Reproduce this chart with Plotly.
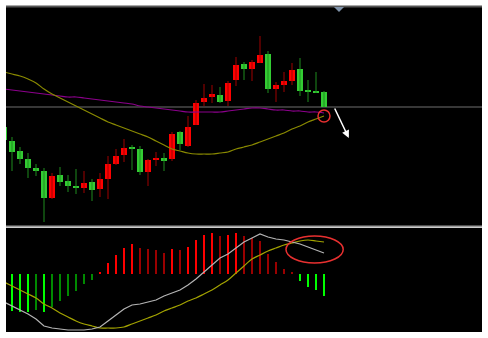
import plotly.graph_objects as go

# ---- candle data (index, open, high, low, close) ----
opens  = [13.3, 11.9, 10.9, 10.1, 9.2, 8.9, 6.2, 8.5, 7.9, 7.4, 7.2, 7.8, 7.1, 8.1, 9.6, 10.5, 11.2, 11.1, 8.8, 10.0,
          10.2, 10.1, 12.8, 11.4, 13.5, 15.8, 16.3, 16.5, 15.9, 18.0, 19.6, 19.1, 19.7, 20.6, 17.1, 17.5, 17.9, 19.1, 16.9, 16.9, 16.8]
highs  = [13.6, 12.3, 11.3, 10.7, 9.6, 9.2, 8.7, 9.3, 8.5, 9.1, 8.9, 8.1, 8.7, 10.4, 11.1, 12.1, 11.5, 11.4, 10.1, 10.8,
          10.7, 12.8, 12.9, 14.4, 16.0, 17.6, 17.5, 17.3, 17.9, 20.3, 19.8, 20.0, 22.4, 20.9, 17.8, 18.8, 19.7, 20.2, 18.0, 18.8, 16.9]
lows   = [11.5, 8.9, 9.6, 8.2, 8.4, 3.8, 6.1, 7.4, 6.8, 6.6, 6.7, 5.9, 6.3, 6.1, 9.5, 9.8, 9.0, 8.5, 7.4, 9.4,
          8.9, 9.9, 11.0, 11.3, 13.5, 15.4, 15.7, 15.7, 15.4, 17.4, 18.0, 17.9, 19.7, 16.7, 15.8, 16.8, 17.5, 16.4, 15.8, 16.7, 15.3]
closes = [12.0, 10.8, 10.1, 9.2, 8.9, 6.2, 8.4, 7.8, 7.4, 7.2, 7.7, 7.0, 8.1, 9.6, 10.4, 11.2, 11.1, 8.8, 10.0, 10.1,
          9.9, 12.6, 11.6, 13.3, 15.7, 16.2, 16.6, 15.8, 17.7, 19.5, 19.1, 19.8, 20.5, 17.1, 17.5, 17.9, 19.0, 16.9, 16.8, 16.7, 15.3]

# moving averages (price units)
ma_short = [18.8, 18.6, 18.4, 18.1, 17.7, 17.1, 16.6, 16.2, 15.8, 15.4, 15.0, 14.6, 14.2, 13.8, 13.5, 13.2, 12.9, 12.6, 12.3, 11.9,
            11.5, 11.1, 10.9, 10.7, 10.6, 10.6, 10.6, 10.7, 10.8, 11.1, 11.3, 11.5, 11.8, 12.1, 12.4, 12.7, 13.1, 13.4, 13.8, 14.1, 14.4]
ma_long  = [17.1, 17.0, 16.9, 16.8, 16.7, 16.6, 16.5, 16.4, 16.3, 16.3, 16.2, 16.1, 16.0, 15.9, 15.8, 15.7, 15.6, 15.4, 15.3, 15.2,
            15.1, 15.0, 14.9, 14.8, 14.8, 14.8, 14.8, 14.8, 14.9, 15.0, 15.1, 15.2, 15.2, 15.1, 15.0, 15.0, 14.9, 14.9, 14.8, 14.8, 14.7]

# MACD panel
macd_hist = [-0.36, -0.37, -0.375, -0.38, -0.36, -0.38, -0.33, -0.27, -0.22, -0.17, -0.10, -0.06, 0.02, 0.11, 0.19, 0.26, 0.30,
             0.26, 0.25, 0.245, 0.21, 0.25, 0.24, 0.27, 0.34, 0.39, 0.41, 0.38, 0.39, 0.41, 0.38, 0.36, 0.33, 0.20, 0.12, 0.05,
             0.02, -0.07, -0.13, -0.16, -0.22]
dif = [-0.28, -0.32, -0.36, -0.40, -0.45, -0.52, -0.54, -0.55, -0.56, -0.56, -0.56, -0.55, -0.53, -0.47, -0.41, -0.35, -0.31,
       -0.30, -0.28, -0.26, -0.22, -0.19, -0.16, -0.11, -0.05, 0.02, 0.09, 0.16, 0.20, 0.26, 0.32, 0.36, 0.40, 0.37, 0.35,
       0.34, 0.32, 0.30, 0.27, 0.24, 0.21]
dea = [-0.08, -0.12, -0.16, -0.20, -0.24, -0.30, -0.34, -0.39, -0.43, -0.47, -0.50, -0.52, -0.54, -0.54, -0.54, -0.53, -0.50,
       -0.47, -0.44, -0.41, -0.37, -0.34, -0.31, -0.27, -0.24, -0.20, -0.16, -0.11, -0.06, 0.01, 0.08, 0.15, 0.19, 0.23, 0.26,
       0.29, 0.31, 0.33, 0.34, 0.33, 0.32]

idx = list(range(len(opens)))

fig = go.Figure()

# wicks
for up, col in [(True, "#a00000"), (False, "#1e8c1e")]:
    xs, ys = [], []
    for i in idx:
        if (closes[i] >= opens[i]) == up:
            xs += [i, i, None]
            ys += [lows[i], highs[i], None]
    fig.add_trace(go.Scatter(x=xs, y=ys, mode="lines", line=dict(color=col, width=1),
                             hoverinfo="skip", showlegend=False, xaxis="x", yaxis="y"))

# MA lines
fig.add_trace(go.Scatter(x=idx, y=ma_long, mode="lines", line=dict(color="#8c008c", width=1.2, shape="spline", smoothing=0.8),
                         showlegend=False, xaxis="x", yaxis="y"))
fig.add_trace(go.Scatter(x=idx, y=ma_short, mode="lines", line=dict(color="#8a8a00", width=1.2, shape="spline", smoothing=0.8),
                         showlegend=False, xaxis="x", yaxis="y"))

# bodies
for up, col in [(True, "#ff0000"), (False, "#33cc33")]:
    bx, bb, bh = [], [], []
    for i in idx:
        if (closes[i] >= opens[i]) == up:
            lo = min(opens[i], closes[i]); hi = max(opens[i], closes[i])
            bx.append(i); bb.append(lo); bh.append(max(hi - lo, 0.12))
    fig.add_trace(go.Bar(x=bx, y=bh, base=bb, width=0.7, marker=dict(color=col, line=dict(width=0)),
                         showlegend=False, xaxis="x", yaxis="y"))

# MACD histogram colours
hist_cols = []
for i, v in enumerate(macd_hist):
    prev = macd_hist[i - 1] if i > 0 else 0
    if v >= 0:
        hist_cols.append("#ff0000" if v >= prev else "#9a0000")
    else:
        hist_cols.append("#00ff00" if v <= prev else "#008a00")
fig.add_trace(go.Bar(x=idx, y=macd_hist, width=0.26, marker=dict(color=hist_cols, line=dict(width=0)),
                     showlegend=False, xaxis="x2", yaxis="y2"))
fig.add_trace(go.Scatter(x=idx, y=dea, mode="lines", line=dict(color="#a3a300", width=1.2, shape="spline", smoothing=0.8),
                         showlegend=False, xaxis="x2", yaxis="y2"))
fig.add_trace(go.Scatter(x=idx, y=dif, mode="lines", line=dict(color="#b4b4b4", width=1.2),
                         showlegend=False, xaxis="x2", yaxis="y2"))

H = 326.0
def py(px):  # pixel row -> paper fraction
    return (332 - px) / H

shapes = [
    dict(type="line", xref="paper", yref="paper", x0=0, x1=1, y0=py(6.5), y1=py(6.5),
         line=dict(color="#555555", width=2)),
    dict(type="line", xref="paper", yref="paper", x0=0, x1=1, y0=py(226.5), y1=py(226.5),
         line=dict(color="#9c9c9c", width=2)),
    dict(type="line", xref="paper", yref="y", x0=0, x1=1, y0=closes[-1], y1=closes[-1],
         line=dict(color="#4a4a4a", width=1.5), layer="below"),
    dict(type="path", xref="x", yref="paper",
         path=f"M 41.25 {py(7)} L 42.5 {py(7)} L 41.875 {py(12)} Z",
         fillcolor="#8093aa", line=dict(width=0)),
    dict(type="circle", xref="x", yref="y", x0=39.25, x1=40.75, y0=13.8, y1=15.0,
         line=dict(color="#e83030", width=1.5)),
    dict(type="circle", xref="x2", yref="y2", x0=35.25, x1=42.4, y0=0.11, y1=0.38,
         line=dict(color="#e83030", width=1.5)),
]

fig.update_layout(
    width=488, height=338,
    margin=dict(l=6, r=6, t=6, b=6, pad=0),
    paper_bgcolor="white", plot_bgcolor="black",
    barmode="overlay", bargap=0,
    showlegend=False,
    xaxis=dict(domain=[0, 1], range=[0.25, 59.75], visible=False, anchor="y"),
    xaxis2=dict(domain=[0, 1], range=[0.25, 59.75], visible=False, anchor="y2", matches="x"),
    yaxis=dict(domain=[py(226), 1], range=[3.4, 25.4], visible=False),
    yaxis2=dict(domain=[0, py(228)], range=[-0.58, 0.46], visible=False),
    shapes=shapes,
    annotations=[dict(x=43.1, y=12.2, ax=41.25, ay=15.3, xref="x", yref="y", axref="x", ayref="y",
                      showarrow=True, arrowhead=2, arrowsize=1, arrowwidth=1.5, arrowcolor="white", text="")],
)

fig.write_html("out.html")
